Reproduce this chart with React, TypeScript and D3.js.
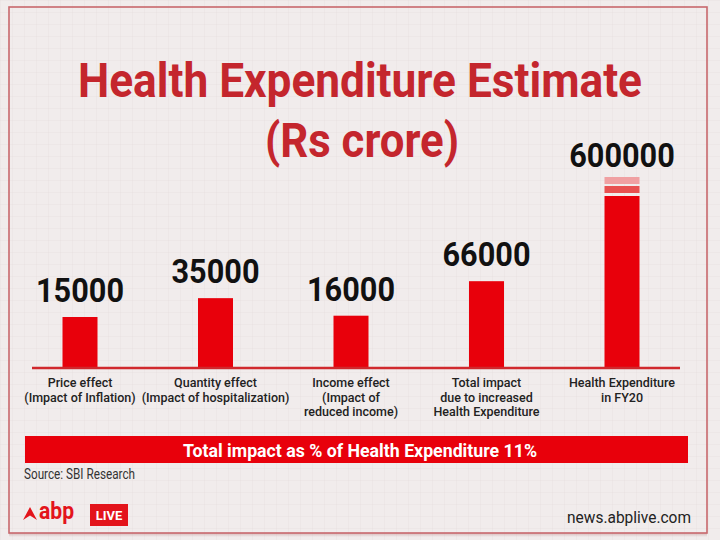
import React from "react";
import * as d3 from "d3";

const categories = ["Price effect", "Quantity effect", "Income effect", "Total impact", "Health Expenditure"];
const categoryLines = [
  ["Price effect", "(Impact of Inflation)"],
  ["Quantity effect", "(Impact of hospitalization)"],
  ["Income effect", "(Impact of", "reduced income)"],
  ["Total impact", "due to increased", "Health Expenditure"],
  ["Health Expenditure", "in FY20"],
];
const values = [15000, 35000, 16000, 66000, 600000];
const brokenBar = [false, false, false, false, true];
const titleLines = ["Health Expenditure Estimate", "(Rs crore)"];
const bannerText = "Total impact as % of Health Expenditure 11%";
const sourceText = "Source: SBI Research";
const siteText = "news.abplive.com";

const W = 720;
const H = 540;
const BASE = 368;
const BAR_W = 35;
const RED = "#e8000b";
const TITLE_RED = "#c4262d";

export default function App() {
  const x = d3.scalePoint<string>().domain(categories).range([80, 622]);
  const y = d3.scalePow().exponent(0.25).domain([15000, 600000]).range([317, 196]);

  return (
    <svg width={W} height={H} style={{ position: "absolute", left: 0, top: 0 }} fontFamily="Roboto, 'DejaVu Sans', sans-serif">
      <defs>
        <pattern id="grid" width="12" height="12" patternUnits="userSpaceOnUse">
          <path d="M12 0 L0 0 0 12" fill="none" stroke="#e7dede" strokeWidth="0.8" />
        </pattern>
        <linearGradient id="shadow" x1="0" x2="0" y1="0" y2="1">
          <stop offset="0" stopColor="#b88" stopOpacity="0.5" />
          <stop offset="1" stopColor="#b88" stopOpacity="0" />
        </linearGradient>
      </defs>
      <rect x={0} y={0} width={W} height={H} fill="#f1ecec" />
      <rect x={0} y={0} width={W} height={H} fill="url(#grid)" />
      <rect x={9} y={533} width={698} height={4} fill="url(#shadow)" />
      <rect x={9} y={7} width={698} height={526} fill="none" stroke="#c8686d" strokeWidth={1.6} />

      {titleLines.map((t, i) => (
        <text
          key={t}
          x={i === 0 ? 360 : 362}
          y={i === 0 ? 97 : 157}
          textAnchor="middle"
          fontSize={49}
          fontWeight={700}
          fill={TITLE_RED}
          textLength={i === 0 ? 564 : 194}
          lengthAdjust="spacingAndGlyphs"
        >
          {t}
        </text>
      ))}

      {categories.map((c, i) => {
        const cx = x(c)!;
        const top = y(values[i]);
        const labelY = brokenBar[i] ? top - 19 - 10 : top - 15;
        const label = String(values[i]);
        return (
          <g key={c}>
            <rect x={cx - BAR_W / 2} y={top} width={BAR_W} height={BASE - top} fill={RED} />
            {brokenBar[i] && (
              <g>
                <rect x={cx - BAR_W / 2} y={top - 10} width={BAR_W} height={7} fill="#e85050" />
                <rect x={cx - BAR_W / 2} y={top - 19} width={BAR_W} height={7} fill="#f0a0a2" />
              </g>
            )}
            <text
              x={cx}
              y={labelY}
              textAnchor="middle"
              fontSize={33}
              fontWeight={700}
              fill="#111"
              textLength={label.length * 17.6}
              lengthAdjust="spacingAndGlyphs"
            >
              {label}
            </text>
            {categoryLines[i].map((ln, j) => (
              <text
                key={ln}
                x={cx}
                y={387 + j * 14.5}
                textAnchor="middle"
                fontSize={12.5}
                fontWeight={500}
                fill="#222"
              >
                {ln}
              </text>
            ))}
          </g>
        );
      })}

      <line x1={32} x2={680} y1={BASE} y2={BASE} stroke="#d0282d" strokeWidth={2.5} />

      <rect x={25} y={436} width={663} height={27} fill={RED} />
      <text x={360} y={457} textAnchor="middle" fontSize={19} fontWeight={700} fill="#fff" textLength={354} lengthAdjust="spacingAndGlyphs">
        {bannerText}
      </text>
      <text x={24} y={479} fontSize={14} fill="#333" textLength={111} lengthAdjust="spacingAndGlyphs">
        {sourceText}
      </text>

      <path d="M23 520 L30 507 L37 520 L30 515.5 Z" fill="#e3141b" />
      <text x={39} y={519} fontSize={23} fontWeight={700} fill="#e3141b" textLength={35} lengthAdjust="spacingAndGlyphs">
        abp
      </text>
      <rect x={90} y={504} width={38} height={22} fill="#e3141b" />
      <text x={109} y={520} textAnchor="middle" fontSize={13} fontWeight={700} fill="#fff">
        LIVE
      </text>

      <text x={691} y={523} textAnchor="end" fontSize={17} fill="#222" textLength={124} lengthAdjust="spacingAndGlyphs">
        {siteText}
      </text>
    </svg>
  );
}
